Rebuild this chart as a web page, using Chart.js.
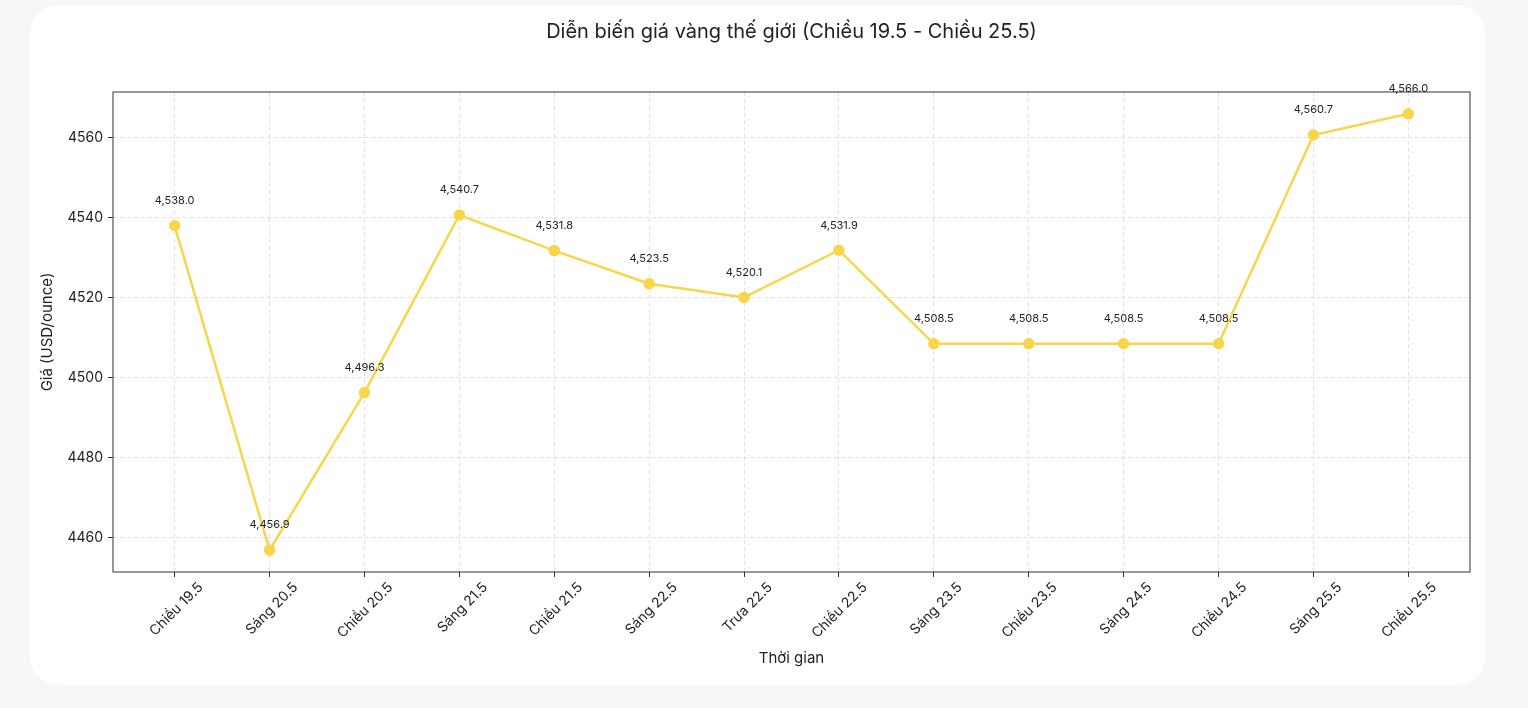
<!DOCTYPE html>
<html lang="vi">
<head>
<meta charset="utf-8">
<title>Diễn biến giá vàng thế giới</title>
<script src="https://cdn.jsdelivr.net/npm/chart.js@4.4.1/dist/chart.umd.min.js"></script>
<style>
  html, body { margin: 0; padding: 0; background: #f8f7f8; }
  body { width: 1528px; height: 708px; position: relative; overflow: hidden; }
  .the { position: absolute; left: 30px; top: 5px; width: 1455px; height: 680px; background: #fff; border-radius: 28px; }
  #bieu-do { position: absolute; left: 0; top: 0; }
</style>
</head>
<body>
<div class="the"></div>
<canvas id="bieu-do" width="1528" height="708"></canvas>
<script>
// ── Dữ liệu giá vàng (USD/ounce) ──
const nhan = [
  "Chiều 19.5", "Sáng 20.5", "Chiều 20.5", "Sáng 21.5", "Chiều 21.5", "Sáng 22.5", "Trưa 22.5",
  "Chiều 22.5", "Sáng 23.5", "Chiều 23.5", "Sáng 24.5", "Chiều 24.5", "Sáng 25.5", "Chiều 25.5",
];
const gia = [4538.0, 4456.9, 4496.3, 4540.7, 4531.8, 4523.5, 4520.1, 4531.9, 4508.5, 4508.5, 4508.5, 4508.5, 4560.7, 4566.0];
const vachY = [4460, 4480, 4500, 4520, 4540, 4560];

const tieuDe = "Diễn biến giá vàng thế giới (Chiều 19.5 - Chiều 25.5)";
const FONT = "Inter, 'Open Sans', sans-serif";
const MAU_DUONG = "#f7d64a";
const MAU_CHU = "#222";

// lề 5% kiểu matplotlib
const minG = Math.min(...gia), maxG = Math.max(...gia);
const leY = (maxG - minG) * 0.05;
const leX = (nhan.length - 1) * 0.05;

const dinhDang = (v) => v.toLocaleString("en-US", { minimumFractionDigits: 1, maximumFractionDigits: 1 });

// khung viền quanh vùng vẽ + tiêu đề giữa vùng vẽ
const khungVien = {
  id: "khungVien",
  beforeDatasetsDraw(chart) {
    const { ctx, chartArea: a } = chart;
    ctx.save();
    ctx.strokeStyle = "#333";
    ctx.lineWidth = 1;
    ctx.strokeRect(a.left, a.top, a.right - a.left, a.bottom - a.top);
    ctx.restore();
  },
  afterDraw(chart) {
    const { ctx, chartArea: a } = chart;
    ctx.save();
    ctx.font = "20px " + FONT;
    ctx.fillStyle = MAU_CHU;
    ctx.textAlign = "center";
    ctx.textBaseline = "middle";
    ctx.fillText(tieuDe, (a.left + a.right) / 2, 32);
    ctx.restore();
  },
};

// nhãn giá trị trên mỗi điểm
const nhanGiaTri = {
  id: "nhanGiaTri",
  afterDatasetsDraw(chart) {
    const { ctx } = chart;
    const meta = chart.getDatasetMeta(0);
    ctx.save();
    ctx.font = "11px " + FONT;
    ctx.fillStyle = MAU_CHU;
    ctx.textAlign = "center";
    ctx.textBaseline = "middle";
    meta.data.forEach((p, i) => ctx.fillText(dinhDang(gia[i]), p.x, p.y - 25));
    ctx.restore();
  },
};

new Chart(document.getElementById("bieu-do"), {
  type: "line",
  data: {
    datasets: [{
      data: gia.map((v, i) => ({ x: i, y: v })),
      borderColor: MAU_DUONG,
      backgroundColor: MAU_DUONG,
      borderWidth: 2.5,
      pointRadius: 4.5,
      pointHoverRadius: 4.5,
      tension: 0,
    }],
  },
  options: {
    responsive: false,
    animation: false,
    devicePixelRatio: 1,
    layout: { padding: { left: 34, right: 58, top: 92, bottom: 37 } },
    plugins: { legend: { display: false }, tooltip: { enabled: false }, title: { display: false } },
    scales: {
      x: {
        type: "linear",
        min: -leX,
        max: nhan.length - 1 + leX,
        afterBuildTicks: (s) => { s.ticks = nhan.map((_, i) => ({ value: i })); },
        afterFit: (s) => { s.height = 99; },
        ticks: {
          autoSkip: false,
          minRotation: 45,
          maxRotation: 45,
          padding: 2,
          labelOffset: 26,
          color: MAU_CHU,
          font: { family: FONT, size: 14 },
          callback: (v) => nhan[v],
        },
        grid: { color: "#d9d9d9", lineWidth: 0.8, tickColor: "#333", tickLength: 5, tickWidth: 1, tickBorderDash: [] },
        border: { display: false, dash: [4, 3] },
        title: { display: true, text: "Thời gian", color: MAU_CHU, font: { family: FONT, size: 15 } },
      },
      y: {
        min: minG - leY,
        max: maxG + leY,
        afterBuildTicks: (s) => { s.ticks = vachY.map((v) => ({ value: v })); },
        afterFit: (s) => { s.width = 79; },
        ticks: { padding: 5, color: MAU_CHU, font: { family: FONT, size: 14 }, callback: (v) => String(v) },
        grid: { color: "#d9d9d9", lineWidth: 0.8, tickColor: "#333", tickLength: 5, tickWidth: 1, tickBorderDash: [] },
        border: { display: false, dash: [4, 3] },
        title: { display: true, text: "Giá (USD/ounce)", color: MAU_CHU, font: { family: FONT, size: 15 } },
      },
    },
  },
  plugins: [khungVien, nhanGiaTri],
});
</script>
</body>
</html>
